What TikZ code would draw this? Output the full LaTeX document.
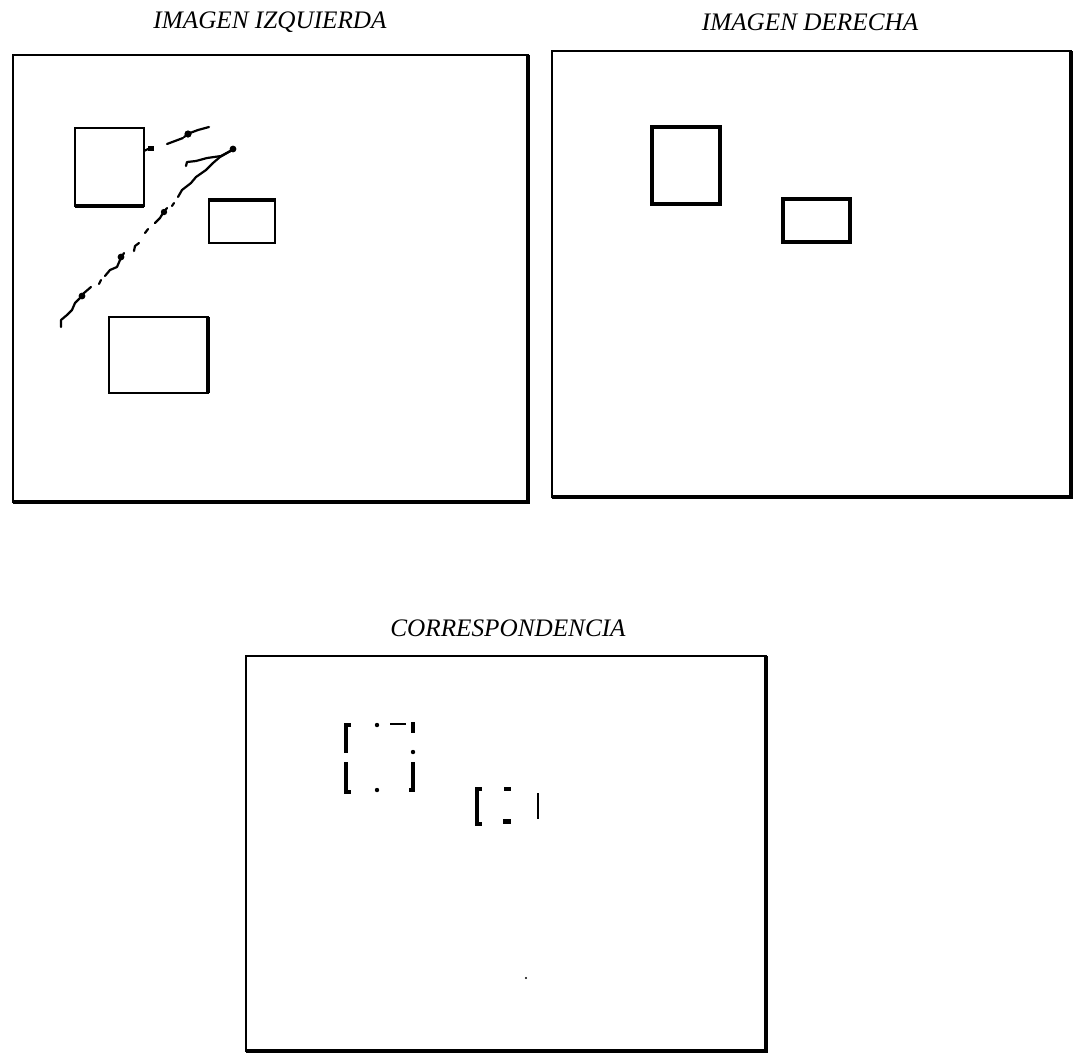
\documentclass[tikz,border=0pt]{standalone}
\usepackage{fontspec}
\setmainfont{Liberation Serif}

\begin{document}
\begin{tikzpicture}[
  x=0.5pt, y=-0.5pt,
  title/.style={font=\fontsize{12.6}{15}\selectfont\itshape, inner sep=0pt},
  panel/.style={draw, line width=1.3pt},
  heavy/.style={line width=2.2pt},
  rect/.style={draw, line width=1.4pt},
  rectb/.style={draw, line width=2pt},
  trace/.style={line width=1.1pt, line cap=round, line join=round},
  frag/.style={line width=1.8pt},
  fine/.style={line width=0.6pt}
]
\useasboundingbox (0,0) rectangle (1074,1056);
\def\yT{22}

% titles
\node[title] (tizq) at (270, \yT) {IMAGEN IZQUIERDA};
\node[title] (tder) at (810, \yT) {IMAGEN DERECHA};
\node[title] (tcorr) at (508, 628) {CORRESPONDENCIA};

% frames
\draw[panel] (13,55) rectangle (528,502);
\draw[heavy] (13,502) -- (528,502) -- (528,55);
\draw[panel] (552,51) rectangle (1071,497);
\draw[heavy] (552,497) -- (1071,497) -- (1071,51);
\draw[panel] (246,656) rectangle (766,1051);
\draw[heavy] (246,1051) -- (766,1051) -- (766,656);

% left image
\draw[rect] (75,128) rectangle (144,206);
\draw[heavy] (75,206) -- (144,206);
\draw[rect] (209,199) rectangle (275,243);
\draw[heavy] (209,200) -- (275,200);
\draw[rect] (109,317) rectangle (208,393);
\draw[heavy] (208,317) -- (208,393);

\draw[trace] (144,151) -- (148,149);
\fill (148,146) rectangle (154,151);
\draw[trace] (167,144) -- (175,141) -- (183,138);
\draw[trace] (184,137) -- (190,133) -- (198,130) -- (209,127);
\fill (188,134) circle (1.8pt);

\draw[trace] (186,166) -- (187,162) -- (196,161) -- (207,158) -- (221,156) -- (234,149);
\fill (233,149) circle (1.7pt);
\draw[trace] (234,149) -- (220,157) -- (213,163) -- (206,170) -- (196,177) -- (191,183) -- (182,190) -- (178,197);
\draw[trace] (174,203) -- (172,206);
\draw[trace] (167,208) -- (163,213) -- (160,218) -- (155,223);
\fill (164,212) circle (1.6pt);
\draw[trace] (148,229) -- (145,233);
\draw[trace] (139,243) -- (135,246) -- (134,251);
\draw[trace] (124,253) -- (120,260) -- (117,267) -- (110,270) -- (105,276);
\fill (121,257) circle (1.7pt);
\draw[trace] (101,280) -- (99,284);
\draw[trace] (91,287) -- (84,293) -- (80,298) -- (75,303) -- (72,310) -- (67,315) -- (61,320) -- (61,327);
\fill (82,296) circle (1.7pt);

% right image
\draw[rectb] (652,127) rectangle (720,204);
\draw[rectb] (783,199) rectangle (850,242);

% correspondence
\draw[frag] (351,725) -- (346,725) -- (346,753);
\draw[frag] (346,762) -- (346,792) -- (351,792);
\fill (377,725) circle (1.1pt);
\fill (377,790) circle (1.1pt);
\draw[fine] (390,724) -- (406,724);
\draw[frag] (413,722) -- (413,733);
\fill (413,752) circle (1.1pt);
\draw[frag] (413,762) -- (413,790) -- (409,790);

\draw[frag] (482,789) -- (477,789) -- (477,824) -- (482,824);
\draw[frag] (504,789) -- (511,789);
\fill (503,819) rectangle (511,824);
\draw[fine] (538,793) -- (538,819);
\fill (526,978) circle (0.6pt);
\end{tikzpicture}
\end{document}
